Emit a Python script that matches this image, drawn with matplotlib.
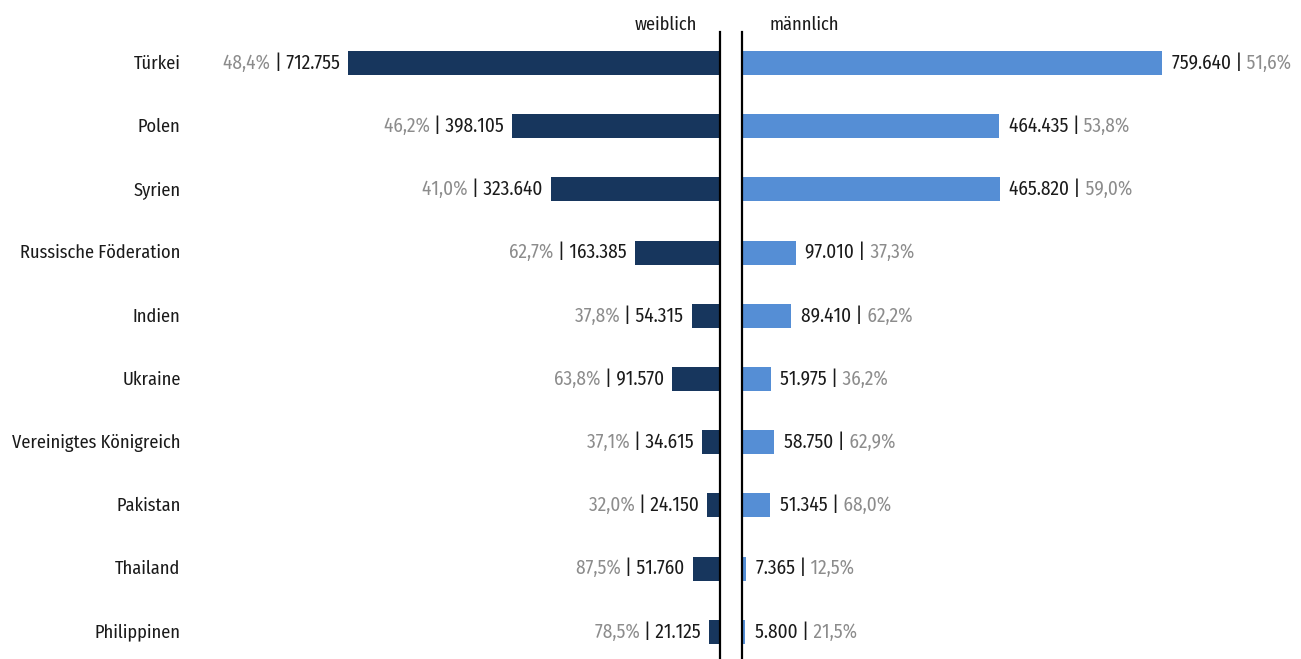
import matplotlib
matplotlib.use("Agg")
import matplotlib.pyplot as plt
from matplotlib import font_manager
from matplotlib.transforms import ScaledTranslation

countries = ["Türkei", "Polen", "Syrien", "Russische Föderation", "Indien", "Ukraine",
             "Vereinigtes Königreich", "Pakistan", "Thailand", "Philippinen"]
female = [712755, 398105, 323640, 163385, 54315, 91570, 34615, 24150, 51760, 21125]
female_pct = [48.4, 46.2, 41.0, 62.7, 37.8, 63.8, 37.1, 32.0, 87.5, 78.5]
male = [759640, 464435, 465820, 97010, 89410, 51975, 58750, 51345, 7365, 5800]
male_pct = [51.6, 53.8, 59.0, 37.3, 62.2, 36.2, 62.9, 68.0, 12.5, 21.5]

names = {f.name for f in font_manager.fontManager.ttflist}
fam = "Lato"
for cand in ["Fira Sans Condensed", "Source Sans 3", "Source Sans Pro", "PT Sans", "Lato"]:
    if cand in names:
        fam = cand
        break
plt.rcParams["font.family"] = [fam, "DejaVu Sans"]

DARK = "#17365d"
LIGHT = "#558ed5"
GREY = "#8c8c8c"
BLACK = "#1a1a1a"
VW = "normal"

W, H = 1301, 659
fig = plt.figure(figsize=(W / 100, H / 100), dpi=100)

# choose font sizes from measured widths in the reference
renderer = fig.canvas.get_renderer()
probe = fig.text(0, 0, "Vereinigtes Königreich", fontsize=12)
wpx = probe.get_window_extent(renderer).width
probe.remove()
FS = 12 * 170.0 / wpx
probe = fig.text(0, 0, "48,4% | 712.755", fontsize=12, fontweight=VW)
wpx2 = probe.get_window_extent(renderer).width
probe.remove()
VFS = 12 * 117.0 / wpx2

def ax_rect(x0, x1, y0, y1):
    return [x0 / W, 1 - y1 / H, (x1 - x0) / W, (y1 - y0) / H]

axL = fig.add_axes(ax_rect(200, 720, 32, 659))
axR = fig.add_axes(ax_rect(742, 1290, 32, 659))

n = len(countries)
ypos = list(range(n))
bh = 0.38
top, bottom = -0.49, n - 1 + 0.43

axL.barh(ypos, female, height=bh, color=DARK)
axR.barh(ypos, male, height=bh, color=LIGHT)

axL.set_xlim(520 * 1916, 0)
axR.set_xlim(0, 548 * 1808.7)
for ax in (axL, axR):
    ax.set_ylim(bottom, top)
    for s in ax.spines.values():
        s.set_visible(False)
    ax.tick_params(length=0)
    ax.set_xticks([])

axL.spines["right"].set_visible(True)
axL.spines["right"].set_linewidth(1.6)
axL.spines["right"].set_color("black")
axR.spines["left"].set_visible(True)
axR.spines["left"].set_linewidth(1.6)
axR.spines["left"].set_color("black")

axL.set_yticks(ypos)
axL.set_yticklabels(countries, fontsize=FS, color=BLACK, va="center_baseline")
axL.tick_params(axis="y", pad=14)
shift = ScaledTranslation(0, 1.2 / 100, fig.dpi_scale_trans)
for lab in axL.get_yticklabels():
    lab.set_transform(lab.get_transform() + shift)
axR.set_yticks([])

def fmt_num(v):
    return f"{v:,}".replace(",", ".")

def fmt_pct(p):
    return f"{p:.1f}%".replace(".", ",")

for i in range(n):
    t = axL.annotate(f"| {fmt_num(female[i])}", xy=(female[i], i), xytext=(-6, 0),
                     textcoords="offset points", ha="right", va="center",
                     fontsize=VFS, color=BLACK, fontweight=VW)
    axL.annotate(fmt_pct(female_pct[i]) + " ", xy=(0, 0.5), xycoords=t,
                 ha="right", va="center", fontsize=VFS, color=GREY, fontweight=VW)
    t2 = axR.annotate(f"{fmt_num(male[i])} |", xy=(male[i], i), xytext=(7, 0),
                      textcoords="offset points", ha="left", va="center",
                      fontsize=VFS, color=BLACK, fontweight=VW)
    axR.annotate(" " + fmt_pct(male_pct[i]), xy=(1, 0.5), xycoords=t2,
                 ha="left", va="center", fontsize=VFS, color=GREY, fontweight=VW)

fig.text(697 / W, 1 - 23 / H, "weiblich", ha="right", va="center_baseline", fontsize=FS, color=BLACK)
fig.text(769 / W, 1 - 23 / H, "männlich", ha="left", va="center_baseline", fontsize=FS, color=BLACK)

fig.savefig("out.png", dpi=100)
